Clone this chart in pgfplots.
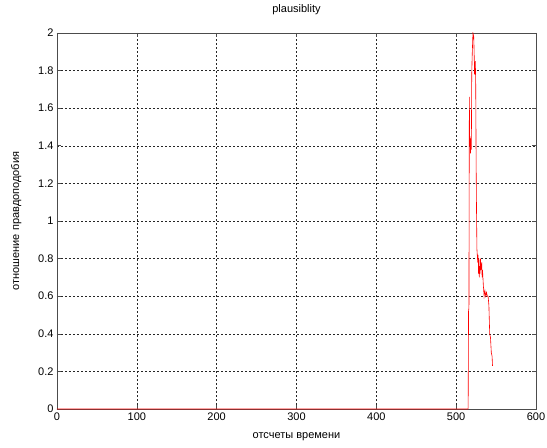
\documentclass[border=0pt]{standalone}
\usepackage{fontspec}
\setmainfont{Liberation Sans}
\usepackage{pgfplots}
\pgfplotsset{compat=1.18}

\begin{document}
\begin{tikzpicture}
\begin{axis}[
    scale only axis,
    width=479pt, height=376pt,
    xmin=0, xmax=600, ymin=0, ymax=2,
    xtick={0,100,...,600},
    ytick={0,0.2,...,2},
    yticklabels={0,0.2,0.4,0.6,0.8,1,1.2,1.4,1.6,1.8,2},
    /pgf/number format/assume math mode=true,
    tick label style={font=\fontsize{11}{13}\selectfont},
    label style={font=\fontsize{11}{13}\selectfont},
    title style={font=\fontsize{11}{13}\selectfont, yshift=9pt},
    title={plausiblity},
    xlabel={отсчеты времени},
    ylabel={отношение правдоподобия},
    xlabel style={yshift=-5pt},
    ylabel style={yshift=10pt},
    axis line style={black!70, line width=0.6pt},
    tick style={black!70, line width=0.6pt},
    tick align=inside,
    major tick length=4pt,
    xmajorgrids, ymajorgrids,
    major grid style={black!85, dash pattern=on 2pt off 2pt, line width=0.4pt},
]
\addplot[red, line width=0.6pt] coordinates {
(0,0) (515,0) (515.5,0.52) (516,0.54) (516.5,1.66) (517,1.40) (517.5,1.45)
(518,1.36) (518.5,1.44) (519,1.38) (519.5,1.78) (520,1.87) (521,2.0)
(522,1.98) (522.5,1.90) (523,1.78) (524,1.85) (524.5,1.72) (525,1.30)
(525.5,1.05) (526,0.85) (527,0.78) (527.5,0.82) (528,0.72) (528.5,0.80)
(529,0.70) (529.5,0.76) (530,0.72) (530.5,0.80) (531,0.74) (532,0.78)
(532.5,0.70) (533,0.74) (534,0.66) (535,0.60) (536,0.63) (537,0.60)
(538,0.62) (539,0.60) (540,0.60) (541,0.55) (542,0.40) (543,0.38)
(544,0.30) (545,0.28) (545.5,0.23)
};
\end{axis}
\pgfresetboundingbox
\path ([shift={(-57pt,-38pt)}]current axis.south west) rectangle ([shift={(11pt,33pt)}]current axis.north east);
\end{tikzpicture}
\end{document}
